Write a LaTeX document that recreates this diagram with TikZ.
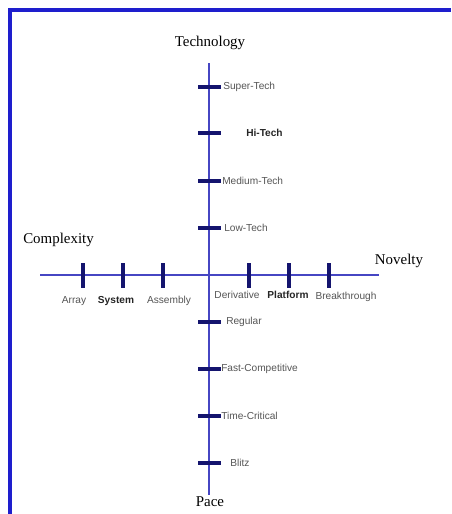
\documentclass[tikz,border=0pt]{standalone}
\usepackage{fontspec}
\setmainfont{Liberation Serif}
\setsansfont{Liberation Sans}
\usetikzlibrary{positioning}
\definecolor{framecol}{RGB}{30,30,205}
\definecolor{axiscol}{RGB}{70,70,195}
\definecolor{tickcol}{RGB}{20,20,110}
\definecolor{labcol}{RGB}{85,85,85}
\tikzset{
axis/.style={axiscol,line width=0.8pt},
tickmark/.style={tickcol,line width=2.3pt},
lab/.style={font=\sffamily\fontsize{7.6}{9}\selectfont,text=labcol,inner sep=0pt},
boldlab/.style={lab,font=\sffamily\bfseries\fontsize{7.6}{9}\selectfont,text=black!85},
title/.style={font=\fontsize{11.2}{13}\selectfont,text=black,inner sep=0pt}
}

\begin{document}
\begin{tikzpicture}[x=0.75pt,y=-0.75pt]
\useasboundingbox (0,0) rectangle (451,514);
\fill[white] (0,0) rectangle (451,514);
% frame
\draw[framecol,line width=2.4pt] (10,514) -- (10,10) -- (451,10);
% axes
\coordinate (top) at (209,63);
\coordinate (bottom) at (209,495);
\coordinate (left) at (40,275);
\coordinate (right) at (379,275);
\draw[axis] (top) -- (bottom);
\draw[axis] (left) -- (right);
\node[title] (tech) at (210,43) {Technology};
\node[title] (pace) at (210,502) {Pace};
\node[title,anchor=west] (cplx) at (23,240) {Complexity};
\node[title] (nov) at (399,261) {Novelty};
% technology ticks
\draw[tickmark] (198,87) -- (221,87);
\draw[tickmark] (198,133) -- (221,133);
\draw[tickmark] (198,181) -- (221,181);
\draw[tickmark] (198,228) -- (221,228);
\node[lab,anchor=west] (super) at (223,87) {Super-Tech};
\node[boldlab,anchor=west] (hi) at (246,133) {Hi-Tech};
\node[lab,anchor=west] (medium) at (222,181) {Medium-Tech};
\node[lab,anchor=west] (low) at (224,228) {Low-Tech};
% pace ticks
\draw[tickmark] (198,322) -- (221,322);
\draw[tickmark] (198,369) -- (221,369);
\draw[tickmark] (198,416) -- (221,416);
\draw[tickmark] (198,463) -- (221,463);
\node[lab,anchor=west] (regular) at (226,322) {Regular};
\node[lab,anchor=west] (fast) at (221,369) {Fast-Competitive};
\node[lab,anchor=west] (time) at (221,416) {Time-Critical};
\node[lab,anchor=west] (blitz) at (230,463) {Blitz};
% complexity and novelty ticks
\draw[tickmark] (83,263) -- (83,288);
\draw[tickmark] (123,263) -- (123,288);
\draw[tickmark] (163,263) -- (163,288);
\draw[tickmark] (249,263) -- (249,288);
\draw[tickmark] (289,263) -- (289,288);
\draw[tickmark] (329,263) -- (329,288);
\node[lab] (array) at (74,301) {Array};
\node[boldlab] (system) at (116,301) {System};
\node[lab] (assembly) at (169,301) {Assembly};
\node[lab] (deriv) at (237,295) {Derivative};
\node[boldlab] (platform) at (288,295) {Platform};
\node[lab] (break) at (346,297) {Breakthrough};
\end{tikzpicture}
\end{document}
